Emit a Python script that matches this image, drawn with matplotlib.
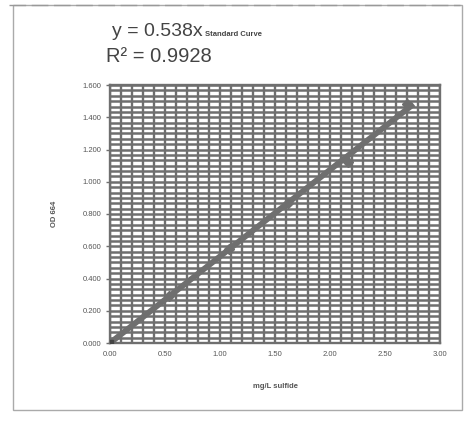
import numpy as np
import matplotlib
matplotlib.use("Agg")
import matplotlib.pyplot as plt
from matplotlib.patches import Rectangle

plt.rcParams['font.family'] = ['Liberation Sans', 'DejaVu Sans']

# standard curve readings
conc = [0.0, 0.54, 1.08, 1.62, 2.16, 2.70]      # mg/L sulfide
od664 = [0.0, 0.29, 0.585, 0.87, 1.12, 1.48]    # absorbance
x_ticks = [0.0, 0.5, 1.0, 1.5, 2.0, 2.5, 3.0]
y_ticks = [0.0, 0.2, 0.4, 0.6, 0.8, 1.0, 1.2, 1.4, 1.6]

grey = "#6f6f6f"

fig = plt.figure(figsize=(4.69, 4.25), dpi=100)
ax = fig.add_axes([110/469, 1 - 343/425, 330/469, 258/425])

# dense gridlines of the scanned excel chart
for gx in np.arange(0, 3.0001, 0.1):
    ax.axvline(gx, color=grey, lw=1.7, zorder=1)
for gy in np.arange(0, 1.6001, 0.2/6):
    ax.axhline(gy, color=grey, lw=1.8, zorder=1)

# trendline through origin
c = np.array(conc); o = np.array(od664)
slope = (c*o).sum() / (c*c).sum()
xs = np.array([0, max(conc) + 0.06])
ax.plot(xs, slope*xs, color=grey, lw=4.2, solid_capstyle='butt', zorder=3)
ax.plot(conc[1:], od664[1:], 'D', color=grey, ms=5.5, zorder=4)
ax.plot(conc[:1], od664[:1], 's', color="#444444", ms=5, zorder=4)

ax.set_xlim(0, 3.0)
ax.set_ylim(0, 1.6)
ax.set_xticks(x_ticks)
ax.set_yticks(y_ticks)
ax.set_xticklabels(["%.2f" % v for v in x_ticks], fontsize=5.5, color="#555555")
ax.set_yticklabels(["%.3f" % v for v in y_ticks], fontsize=5.5, color="#555555")
ax.tick_params(axis='y', length=3, width=1, color=grey, pad=3)
ax.tick_params(axis='x', length=0, pad=6)
for s in ax.spines.values():
    s.set_color(grey)
    s.set_linewidth(1.7)

ax.set_xlabel("mg/L sulfide", fontsize=5.5, fontweight='bold', color="#555555", labelpad=18)
ax.set_ylabel("OD 664", fontsize=5.5, fontweight='bold', color="#555555", labelpad=18)

# equation text and title
fig.text(112/469, 1 - 32/425, "y = 0.538x", fontsize=14, color="#444444", va='center')
fig.text(205/469, 1 - 34/425, "Standard Curve", fontsize=5.5, fontweight='bold',
         color="#444444", va='center')
fig.text(106/469, 1 - 57/425, "R\u00b2 = 0.9928", fontsize=14.5, color="#444444", va='center')

# chart frame
fig.patches.append(Rectangle((13/469, 15/425), 449/469, 405/425, transform=fig.transFigure,
                             fill=False, edgecolor="#aaaaaa", lw=1))
fig.add_artist(plt.Line2D([0.02, 0.98], [1 - 5/425, 1 - 5/425], transform=fig.transFigure,
                          color="#999999", lw=1, ls=(0, (12, 4))))

fig.savefig("out.png", dpi=100)
